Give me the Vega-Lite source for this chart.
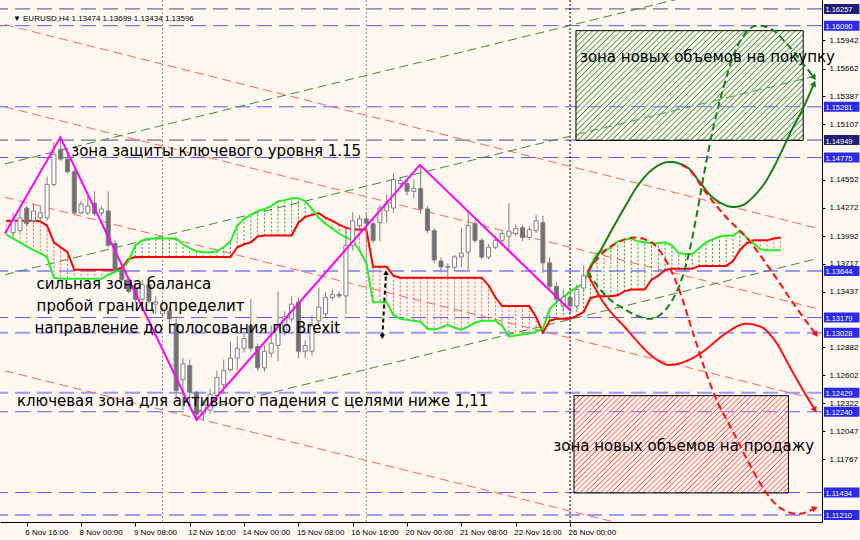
{
"$schema":"https://vega.github.io/schema/vega-lite/v6.json",
"width":822,"height":522,
"autosize":{"type":"none"},
"padding":{"left":0,"top":0,"right":38,"bottom":18},
"background":"#fdf7f0",
"config":{"view":{"stroke":null},"axis":{"labelOverlap":false,"labelSeparation":0}},
"datasets":{
"c":[{"b":-2,"o":1.14026,"h":1.14223,"l":1.13987,"c":1.14144},{"b":-1,"o":1.14046,"h":1.14262,"l":1.14027,"c":1.14173},{"b":0,"o":1.14271,"h":1.14291,"l":1.14095,"c":1.14115},{"b":1,"o":1.14144,"h":1.1432,"l":1.14115,"c":1.14242},{"b":2,"o":1.14174,"h":1.14291,"l":1.14125,"c":1.14223},{"b":3,"o":1.14174,"h":1.14584,"l":1.14144,"c":1.14506},{"b":4,"o":1.14506,"h":1.14927,"l":1.14487,"c":1.14809},{"b":5,"o":1.14858,"h":1.14976,"l":1.14741,"c":1.1476},{"b":6,"o":1.1476,"h":1.14829,"l":1.14614,"c":1.14633},{"b":7,"o":1.14633,"h":1.14663,"l":1.14213,"c":1.14222},{"b":8,"o":1.14222,"h":1.1434,"l":1.14213,"c":1.14311},{"b":9,"o":1.14222,"h":1.14389,"l":1.14203,"c":1.14291},{"b":10,"o":1.1432,"h":1.14438,"l":1.14193,"c":1.14213},{"b":11,"o":1.14222,"h":1.14291,"l":1.14193,"c":1.14262},{"b":12,"o":1.14242,"h":1.14438,"l":1.1388,"c":1.139},{"b":13,"o":1.1392,"h":1.13949,"l":1.13636,"c":1.13655},{"b":14,"o":1.13655,"h":1.1368,"l":1.1353,"c":1.13557},{"b":15,"o":1.13557,"h":1.1358,"l":1.1342,"c":1.1344},{"b":16,"o":1.1348,"h":1.1351,"l":1.1333,"c":1.13362},{"b":17,"o":1.13362,"h":1.13557,"l":1.13313,"c":1.13508},{"b":18,"o":1.13508,"h":1.1353,"l":1.1332,"c":1.13342},{"b":19,"o":1.13313,"h":1.1339,"l":1.13215,"c":1.13335},{"b":20,"o":1.13215,"h":1.1328,"l":1.1319,"c":1.13245},{"b":21,"o":1.13245,"h":1.1329,"l":1.131,"c":1.13166},{"b":22,"o":1.13117,"h":1.13166,"l":1.12384,"c":1.12452},{"b":23,"o":1.1256,"h":1.12775,"l":1.12256,"c":1.12717},{"b":24,"o":1.127,"h":1.1276,"l":1.123,"c":1.12433},{"b":25,"o":1.12433,"h":1.1245,"l":1.12159,"c":1.12217},{"b":26,"o":1.12217,"h":1.12355,"l":1.1215,"c":1.12315},{"b":27,"o":1.12257,"h":1.1247,"l":1.1222,"c":1.12413},{"b":28,"o":1.124,"h":1.1265,"l":1.1235,"c":1.1258},{"b":29,"o":1.1251,"h":1.1276,"l":1.1242,"c":1.1265},{"b":30,"o":1.12657,"h":1.1294,"l":1.1264,"c":1.12775},{"b":31,"o":1.12775,"h":1.1299,"l":1.1265,"c":1.12873},{"b":32,"o":1.12873,"h":1.1302,"l":1.1283,"c":1.1297},{"b":33,"o":1.13098,"h":1.13362,"l":1.1284,"c":1.12873},{"b":34,"o":1.1289,"h":1.1292,"l":1.1265,"c":1.12677},{"b":35,"o":1.12677,"h":1.129,"l":1.1264,"c":1.12843},{"b":36,"o":1.12824,"h":1.131,"l":1.1278,"c":1.12922},{"b":37,"o":1.12902,"h":1.1344,"l":1.12745,"c":1.13098},{"b":38,"o":1.1304,"h":1.1324,"l":1.13,"c":1.13186},{"b":39,"o":1.13166,"h":1.1339,"l":1.1313,"c":1.13313},{"b":40,"o":1.13333,"h":1.1338,"l":1.12775,"c":1.12843},{"b":41,"o":1.12843,"h":1.1295,"l":1.12775,"c":1.129},{"b":42,"o":1.12843,"h":1.132,"l":1.128,"c":1.13098},{"b":43,"o":1.13146,"h":1.13479,"l":1.131,"c":1.13284},{"b":44,"o":1.13215,"h":1.1343,"l":1.1318,"c":1.13381},{"b":45,"o":1.13381,"h":1.1346,"l":1.1335,"c":1.1341},{"b":46,"o":1.1341,"h":1.1344,"l":1.1337,"c":1.13395},{"b":47,"o":1.13395,"h":1.14075,"l":1.13215,"c":1.139},{"b":48,"o":1.139,"h":1.1423,"l":1.1385,"c":1.14144},{"b":49,"o":1.14095,"h":1.142,"l":1.1405,"c":1.14163},{"b":50,"o":1.14163,"h":1.1422,"l":1.14,"c":1.1412},{"b":51,"o":1.14115,"h":1.1415,"l":1.1392,"c":1.13949},{"b":52,"o":1.14125,"h":1.143,"l":1.1394,"c":1.14271},{"b":53,"o":1.14242,"h":1.14408,"l":1.14125,"c":1.14311},{"b":54,"o":1.14271,"h":1.14614,"l":1.14223,"c":1.14555},{"b":55,"o":1.14516,"h":1.1458,"l":1.1448,"c":1.14545},{"b":56,"o":1.14516,"h":1.1456,"l":1.144,"c":1.14438},{"b":57,"o":1.14438,"h":1.14555,"l":1.1437,"c":1.14467},{"b":58,"o":1.14467,"h":1.14682,"l":1.14213,"c":1.14262},{"b":59,"o":1.14262,"h":1.1429,"l":1.1402,"c":1.14046},{"b":60,"o":1.14046,"h":1.1407,"l":1.1372,"c":1.13753},{"b":61,"o":1.13743,"h":1.1378,"l":1.1363,"c":1.13684},{"b":62,"o":1.1368,"h":1.1372,"l":1.13557,"c":1.1369},{"b":63,"o":1.1368,"h":1.138,"l":1.1364,"c":1.13784},{"b":64,"o":1.13784,"h":1.14075,"l":1.1368,"c":1.13822},{"b":65,"o":1.13831,"h":1.14242,"l":1.13655,"c":1.14095},{"b":66,"o":1.14115,"h":1.1415,"l":1.1392,"c":1.13949},{"b":67,"o":1.13949,"h":1.1397,"l":1.1376,"c":1.13782},{"b":68,"o":1.13782,"h":1.1391,"l":1.1376,"c":1.1388},{"b":69,"o":1.1388,"h":1.1399,"l":1.1386,"c":1.13949},{"b":70,"o":1.13949,"h":1.1405,"l":1.1392,"c":1.14017},{"b":71,"o":1.1399,"h":1.1432,"l":1.13851,"c":1.1404},{"b":72,"o":1.14017,"h":1.1411,"l":1.1399,"c":1.14066},{"b":73,"o":1.14075,"h":1.141,"l":1.1394,"c":1.13978},{"b":74,"o":1.13978,"h":1.1409,"l":1.1395,"c":1.14056},{"b":75,"o":1.14046,"h":1.142,"l":1.1402,"c":1.14144},{"b":76,"o":1.14125,"h":1.14193,"l":1.13625,"c":1.13724},{"b":77,"o":1.13724,"h":1.1378,"l":1.13459,"c":1.13489},{"b":78,"o":1.13489,"h":1.1353,"l":1.13313,"c":1.13362},{"b":79,"o":1.13294,"h":1.13459,"l":1.1324,"c":1.13381},{"b":80,"o":1.13381,"h":1.1342,"l":1.1325,"c":1.13294},{"b":81,"o":1.13294,"h":1.1351,"l":1.1326,"c":1.13459},{"b":82,"o":1.13474,"h":1.13699,"l":1.13434,"c":1.13596}],
"k":[{"b":-3,"r":1.14144,"g":1.14007},{"b":-2,"r":1.14144,"g":1.13968},{"b":-1,"r":1.14144,"g":1.13929},{"b":0,"r":1.14144,"g":1.1389},{"b":1,"r":1.14144,"g":1.13851},{"b":2,"r":1.14139,"g":1.13821},{"b":3,"r":1.14095,"g":1.13782},{"b":4,"r":1.13929,"g":1.13577},{"b":5,"r":1.1388,"g":1.13567},{"b":6,"r":1.13831,"g":1.13567},{"b":7,"r":1.13655,"g":1.13567},{"b":8,"r":1.13655,"g":1.13567},{"b":9,"r":1.13655,"g":1.13567},{"b":10,"r":1.13655,"g":1.13567},{"b":11,"r":1.13655,"g":1.13567},{"b":12,"r":1.13655,"g":1.13606},{"b":13,"r":1.13655,"g":1.13636},{"b":14,"r":1.13675,"g":1.13655},{"b":15,"r":1.13763,"g":1.13743},{"b":16,"r":1.13782,"g":1.139},{"b":17,"r":1.13782,"g":1.13949},{"b":18,"r":1.13782,"g":1.13968},{"b":19,"r":1.13782,"g":1.13968},{"b":20,"r":1.13782,"g":1.13968},{"b":21,"r":1.13782,"g":1.13968},{"b":22,"r":1.13782,"g":1.13968},{"b":23,"r":1.13782,"g":1.1391},{"b":24,"r":1.13782,"g":1.13871},{"b":25,"r":1.13782,"g":1.13841},{"b":26,"r":1.13782,"g":1.13831},{"b":27,"r":1.13782,"g":1.13831},{"b":28,"r":1.13782,"g":1.13841},{"b":29,"r":1.13782,"g":1.1388},{"b":30,"r":1.13782,"g":1.13939},{"b":31,"r":1.1388,"g":1.14095},{"b":32,"r":1.1391,"g":1.14164},{"b":33,"r":1.13929,"g":1.14203},{"b":34,"r":1.13988,"g":1.14242},{"b":35,"r":1.13997,"g":1.14262},{"b":36,"r":1.13997,"g":1.14291},{"b":37,"r":1.13997,"g":1.1434},{"b":38,"r":1.13997,"g":1.1435},{"b":39,"r":1.13997,"g":1.14369},{"b":40,"r":1.14125,"g":1.14369},{"b":41,"r":1.14183,"g":1.1434},{"b":42,"r":1.14203,"g":1.14262},{"b":43,"r":1.14222,"g":1.14174},{"b":44,"r":1.14174,"g":1.14115},{"b":45,"r":1.14144,"g":1.14066},{"b":46,"r":1.14105,"g":1.14017},{"b":47,"r":1.14076,"g":1.13978},{"b":48,"r":1.14056,"g":1.13949},{"b":49,"r":1.14056,"g":1.13851},{"b":50,"r":1.14056,"g":1.13724},{"b":51,"r":1.13685,"g":1.13332},{"b":52,"r":1.13685,"g":1.13332},{"b":53,"r":1.13685,"g":1.13332},{"b":54,"r":1.13596,"g":1.13205},{"b":55,"r":1.13577,"g":1.13166},{"b":56,"r":1.13577,"g":1.13156},{"b":57,"r":1.13577,"g":1.13147},{"b":58,"r":1.13577,"g":1.13137},{"b":59,"r":1.13577,"g":1.13068},{"b":60,"r":1.13577,"g":1.13059},{"b":61,"r":1.13577,"g":1.13078},{"b":62,"r":1.13577,"g":1.13107},{"b":63,"r":1.13577,"g":1.13078},{"b":64,"r":1.13577,"g":1.13059},{"b":65,"r":1.13577,"g":1.13088},{"b":66,"r":1.13577,"g":1.13127},{"b":67,"r":1.13577,"g":1.13147},{"b":68,"r":1.13499,"g":1.13147},{"b":69,"r":1.13381,"g":1.13147},{"b":70,"r":1.13293,"g":1.13098},{"b":71,"r":1.13293,"g":1.1299},{"b":72,"r":1.13293,"g":1.13},{"b":73,"r":1.13293,"g":1.1301},{"b":74,"r":1.13293,"g":1.13019},{"b":75,"r":1.13186,"g":1.13039},{"b":76,"r":1.13029,"g":1.13068},{"b":77,"r":1.13147,"g":1.13264},{"b":78,"r":1.13166,"g":1.13332},{"b":79,"r":1.13166,"g":1.13381},{"b":80,"r":1.13166,"g":1.1344},{"b":81,"r":1.13196,"g":1.13479},{"b":82,"r":1.13235,"g":1.13518},{"b":83,"r":1.13372,"g":1.13694},{"b":84,"r":1.13391,"g":1.13821},{"b":85,"r":1.13391,"g":1.13851},{"b":86,"r":1.13391,"g":1.13871},{"b":87,"r":1.13401,"g":1.13939},{"b":88,"r":1.1344,"g":1.13958},{"b":89,"r":1.13459,"g":1.13968},{"b":90,"r":1.13459,"g":1.13939},{"b":91,"r":1.13459,"g":1.13929},{"b":92,"r":1.13557,"g":1.13919},{"b":93,"r":1.13596,"g":1.13919},{"b":94,"r":1.13655,"g":1.13929},{"b":95,"r":1.13665,"g":1.139},{"b":96,"r":1.13665,"g":1.13821},{"b":97,"r":1.13665,"g":1.13812},{"b":98,"r":1.13665,"g":1.13812},{"b":99,"r":1.13694,"g":1.13871},{"b":100,"r":1.13694,"g":1.13929},{"b":101,"r":1.13694,"g":1.13958},{"b":102,"r":1.13694,"g":1.13988},{"b":103,"r":1.13694,"g":1.13997},{"b":104,"r":1.13743,"g":1.13997},{"b":105,"r":1.13851,"g":1.14046},{"b":106,"r":1.13919,"g":1.13978},{"b":107,"r":1.13949,"g":1.13919},{"b":108,"r":1.13949,"g":1.13861},{"b":109,"r":1.13949,"g":1.13851},{"b":110,"r":1.13968,"g":1.13851},{"b":111,"r":1.13978,"g":1.13851}],
"z":[{"b":-3.2,"p":1.14017},{"b":4.95,"p":1.14976},{"b":25.0,"p":1.12159},{"b":57.9,"p":1.14702},{"b":80.15,"p":1.13244}],
"ch":[{"id":"RA","s":"r","b":-3.2,"p":1.161},{"id":"RA","s":"r","b":116.36,"p":1.1407},{"id":"RB","s":"r","b":-3.2,"p":1.15279},{"id":"RB","s":"r","b":116.36,"p":1.13269},{"id":"RC","s":"r","b":-3.2,"p":1.14379},{"id":"RC","s":"r","b":116.36,"p":1.12361},{"id":"RD","s":"r","b":-3.2,"p":1.12648},{"id":"RD","s":"r","b":116.36,"p":1.10638},{"id":"GA","s":"g","b":-3.2,"p":1.14711},{"id":"GA","s":"g","b":116.36,"p":1.16695},{"id":"GB","s":"g","b":-3.2,"p":1.13606},{"id":"GB","s":"g","b":116.36,"p":1.15592},{"id":"GC","s":"g","b":24.44,"p":1.12237},{"id":"GC","s":"g","b":116.36,"p":1.13766}],
"lv":[{"p":1.16257,"k":"n"},{"p":1.1609,"k":"b"},{"p":1.15281,"k":"b"},{"p":1.14949,"k":"n"},{"p":1.14775,"k":"b"},{"p":1.13644,"k":"l"},{"p":1.13179,"k":"b"},{"p":1.13028,"k":"l"},{"p":1.12429,"k":"l"},{"p":1.1224,"k":"b"},{"p":1.11434,"k":"b"},{"p":1.1121,"k":"l"}],
"sep":[{"b":20,"k":"g"},{"b":50,"k":"g"},{"b":80,"k":"k"}],
"fc":[{"id":"G1","b":82.62,"p":1.13636},{"id":"G1","b":84.51,"p":1.13851},{"id":"G1","b":86.25,"p":1.14066},{"id":"G1","b":88.15,"p":1.14291},{"id":"G1","b":89.89,"p":1.14487},{"id":"G1","b":92.07,"p":1.14653},{"id":"G1","b":94.69,"p":1.14731},{"id":"G1","b":97.16,"p":1.14682},{"id":"G1","b":99.05,"p":1.14535},{"id":"G1","b":100.8,"p":1.14389},{"id":"G1","b":102.55,"p":1.1431},{"id":"G1","b":104.0,"p":1.14281},{"id":"G1","b":105.45,"p":1.14301},{"id":"G1","b":106.91,"p":1.14379},{"id":"G1","b":108.8,"p":1.14535},{"id":"G1","b":110.55,"p":1.14751},{"id":"G1","b":112.44,"p":1.15024},{"id":"G1","b":114.33,"p":1.15269},{"id":"G1","b":115.93,"p":1.15514},
{"id":"G2","b":82.62,"p":1.13636},{"id":"G2","b":84.07,"p":1.13489},{"id":"G2","b":85.82,"p":1.13362},{"id":"G2","b":88.0,"p":1.13264},{"id":"G2","b":89.89,"p":1.13196},{"id":"G2","b":91.64,"p":1.13166},{"id":"G2","b":93.24,"p":1.13205},{"id":"G2","b":94.69,"p":1.13313},{"id":"G2","b":96.15,"p":1.13508},{"id":"G2","b":97.45,"p":1.13802},{"id":"G2","b":98.62,"p":1.14193},{"id":"G2","b":99.78,"p":1.14633},{"id":"G2","b":101.09,"p":1.15073},{"id":"G2","b":102.55,"p":1.15465},{"id":"G2","b":104.15,"p":1.15806},{"id":"G2","b":105.89,"p":1.16022},{"id":"G2","b":107.64,"p":1.16091},{"id":"G2","b":109.53,"p":1.16061},{"id":"G2","b":111.71,"p":1.15924},{"id":"G2","b":113.89,"p":1.15748},{"id":"G2","b":115.93,"p":1.15572},
{"id":"R1","b":82.62,"p":1.13606},{"id":"R1","b":83.64,"p":1.13479},{"id":"R1","b":84.8,"p":1.13342},{"id":"R1","b":86.25,"p":1.13215},{"id":"R1","b":88.0,"p":1.13088},{"id":"R1","b":89.89,"p":1.12941},{"id":"R1","b":92.07,"p":1.12794},{"id":"R1","b":94.69,"p":1.12706},{"id":"R1","b":97.16,"p":1.12746},{"id":"R1","b":99.64,"p":1.12843},{"id":"R1","b":102.69,"p":1.1301},{"id":"R1","b":105.89,"p":1.13117},{"id":"R1","b":108.07,"p":1.13088},{"id":"R1","b":110.25,"p":1.12941},{"id":"R1","b":112.44,"p":1.12677},{"id":"R1","b":114.33,"p":1.12452},{"id":"R1","b":116.07,"p":1.12257},
{"id":"R2","b":82.62,"p":1.13636},{"id":"R2","b":84.07,"p":1.13773},{"id":"R2","b":85.82,"p":1.1388},{"id":"R2","b":87.71,"p":1.13949},{"id":"R2","b":89.45,"p":1.13978},{"id":"R2","b":91.05,"p":1.13958},{"id":"R2","b":92.51,"p":1.139},{"id":"R2","b":94.25,"p":1.13733},{"id":"R2","b":96.15,"p":1.1344},{"id":"R2","b":98.18,"p":1.1301},{"id":"R2","b":99.78,"p":1.12677},{"id":"R2","b":101.53,"p":1.12364},{"id":"R2","b":104.0,"p":1.12041},{"id":"R2","b":106.18,"p":1.11748},{"id":"R2","b":108.36,"p":1.11484},{"id":"R2","b":110.98,"p":1.11278},{"id":"R2","b":113.6,"p":1.1122},{"id":"R2","b":116.07,"p":1.11278},
{"id":"R3","b":96.44,"p":1.14702},{"id":"R3","b":97.89,"p":1.14633},{"id":"R3","b":99.35,"p":1.14487},{"id":"R3","b":102.55,"p":1.14213},{"id":"R3","b":106.33,"p":1.13949},{"id":"R3","b":109.82,"p":1.13626},{"id":"R3","b":113.16,"p":1.13293},{"id":"R3","b":116.22,"p":1.1301}],
"ar":[{"id":"G1","b":115.93,"p":1.15514,"dir":294},{"id":"G2","b":115.93,"p":1.15572,"dir":52},{"id":"R1","b":116.07,"p":1.12257,"dir":59},{"id":"R2","b":116.07,"p":1.11278,"dir":341},{"id":"R3","b":116.22,"p":1.1301,"dir":54}],
"da":[{"b":52.9,"p":1.13626},{"b":52.36,"p":1.1299}],
"tx":[{"t":"зона защиты ключевого уровня 1.15","b":6.55,"p":1.14838},{"t":"сильная зона баланса","b":1.45,"p":1.13518},{"t":"пробой границ определит","b":1.45,"p":1.13293},{"t":"направление до голосования по Brexit","b":1.16,"p":1.13078},{"t":"ключевая зона для активного падения с целями ниже 1,11","b":-1.45,"p":1.12345},{"t":"зона новых объемов на покупку","b":81.45,"p":1.15778},{"t":"зона новых объемов на продажу","b":77.53,"p":1.11895}],
"hd":[{"t":"▼ EURUSD,H4  1.13474 1.13699 1.13434 1.13596","b":-2.04,"p":1.16159}]
},
"layer":[
{"data":{"name":"lv"},"mark":{"type":"rule","strokeDash":[15,7]},
 "encoding":{"y":{"field":"p","type":"quantitative","scale":{"domain":[1.1119,1.16296],"nice":false,"zero":false},"title":null},
 "color":{"condition":[{"test":"datum.k=='n'","value":"#4a4a8c"},{"test":"datum.k=='l'","value":"#9b9bff"}],"value":"#5c5cf5"},
 "strokeWidth":{"condition":{"test":"datum.k=='l'","value":2},"value":1}}},
{"data":{"name":"sep"},"mark":{"type":"rule","strokeDash":[2,2]},
 "encoding":{"x":{"field":"b","type":"quantitative","scale":{"domain":[-3.2,116.36],"nice":false,"zero":false},"title":null},
 "color":{"condition":{"test":"datum.k=='k'","value":"#000000"},"value":"#8a8a8a"}}},
{"data":{"name":"ch"},"mark":{"type":"line","strokeDash":[9,5],"strokeWidth":1,"clip":true},
 "encoding":{"x":{"field":"b","type":"quantitative","scale":{"domain":[-3.2,116.36],"nice":false,"zero":false},"title":null},
 "y":{"field":"p","type":"quantitative","scale":{"domain":[1.1119,1.16296],"nice":false,"zero":false},"title":null},
 "detail":{"field":"id"},
 "color":{"condition":{"test":"datum.s=='r'","value":"#ff6464"},"value":"#3c8c3c"}}},
{"data":{"name":"k"},"mark":{"type":"rule","strokeDash":[2,2],"strokeWidth":1},
 "encoding":{"x":{"field":"b","type":"quantitative","scale":{"domain":[-3.2,116.36],"nice":false,"zero":false},"title":null},
 "y":{"field":"r","type":"quantitative","scale":{"domain":[1.1119,1.16296],"nice":false,"zero":false},"title":null},
 "y2":{"field":"g"},
 "color":{"condition":{"test":"datum.r>=datum.g","value":"#ff5c5c"},"value":"#3a963a"}}},
{"data":{"name":"k"},"mark":{"type":"line","color":"#ff0000","strokeWidth":2},
 "encoding":{"x":{"field":"b","type":"quantitative","scale":{"domain":[-3.2,116.36],"nice":false,"zero":false},"title":null},
 "y":{"field":"r","type":"quantitative","scale":{"domain":[1.1119,1.16296],"nice":false,"zero":false},"title":null}}},
{"data":{"name":"k"},"mark":{"type":"line","color":"#22f022","strokeWidth":2},
 "encoding":{"x":{"field":"b","type":"quantitative","scale":{"domain":[-3.2,116.36],"nice":false,"zero":false},"title":null},
 "y":{"field":"g","type":"quantitative","scale":{"domain":[1.1119,1.16296],"nice":false,"zero":false},"title":null}}},
{"data":{"name":"c"},"mark":{"type":"rule","color":"#808080"},
 "encoding":{"x":{"field":"b","type":"quantitative","scale":{"domain":[-3.2,116.36],"nice":false,"zero":false},"title":null,
   "axis":{"orient":"bottom","title":null,"values":[0,8,16,24,32,40,48,56,64,72,80],"labelExpr":"['6 Nov 16:00','8 Nov 00:00','9 Nov 08:00','12 Nov 16:00','14 Nov 00:00','15 Nov 08:00','16 Nov 16:00','20 Nov 00:00','21 Nov 08:00','22 Nov 16:00','26 Nov 00:00'][datum.value/8]","labelAlign":"left","labelBaseline":"top","labelPadding":2,"labelOffset":-2,"labelFont":"Liberation Sans","labelFontSize":8,"labelColor":"#000000","tickSize":4,"tickColor":"#000000","domainColor":"#000000","grid":false,"labelOverlap":false,"labelFlush":false,"labelBound":false}},
 "y":{"field":"l","type":"quantitative","scale":{"domain":[1.1119,1.16296],"nice":false,"zero":false},"title":null,
   "axis":{"orient":"right","title":null,"values":[1.15942,1.15662,1.15387,1.15107,1.14552,1.14272,1.13992,1.13717,1.13437,1.12882,1.12602,1.12322,1.12047,1.11767],"format":".5f","labelFont":"Liberation Sans","labelFontSize":8,"labelColor":"#000000","labelPadding":4,"tickSize":3,"tickColor":"#000000","domainColor":"#000000","grid":false,"labelOverlap":false,"labelFlush":false,"labelBound":false}},
 "y2":{"field":"h"}}},
{"data":{"name":"c"},"mark":{"type":"bar","width":4,"stroke":"#808080","strokeWidth":1},
 "encoding":{"x":{"field":"b","type":"quantitative","scale":{"domain":[-3.2,116.36],"nice":false,"zero":false},"title":null},
 "y":{"field":"o","type":"quantitative","scale":{"domain":[1.1119,1.16296],"nice":false,"zero":false},"title":null},
 "y2":{"field":"c"},
 "fill":{"condition":{"test":"datum.c>=datum.o","value":"#ffffff"},"value":"#707070"}}},
{"data":{"name":"z"},"mark":{"type":"line","color":"#ff00ff","strokeWidth":2},
 "encoding":{"x":{"field":"b","type":"quantitative","scale":{"domain":[-3.2,116.36],"nice":false,"zero":false},"title":null},
 "y":{"field":"p","type":"quantitative","scale":{"domain":[1.1119,1.16296],"nice":false,"zero":false},"title":null}}},
{"data":{"name":"da"},"mark":{"type":"line","color":"#000000","strokeWidth":2,"strokeDash":[4,3]},
 "encoding":{"x":{"field":"b","type":"quantitative","scale":{"domain":[-3.2,116.36],"nice":false,"zero":false},"title":null},
 "y":{"field":"p","type":"quantitative","scale":{"domain":[1.1119,1.16296],"nice":false,"zero":false},"title":null}}},
{"data":{"name":"da"},"mark":{"type":"point","filled":true,"color":"#000000","size":30,"opacity":1},
 "encoding":{"x":{"field":"b","type":"quantitative","scale":{"domain":[-3.2,116.36],"nice":false,"zero":false},"title":null},
 "y":{"field":"p","type":"quantitative","scale":{"domain":[1.1119,1.16296],"nice":false,"zero":false},"title":null},
 "shape":{"condition":{"test":"datum.p>1.133","value":"triangle-up"},"value":"triangle-down"}}},
{"data":{"values":[{"b1":80.87,"b2":114.33,"p1":1.1604,"p2":1.14946}]},
 "mark":{"type":"rect","stroke":"#000000","strokeWidth":1,"fill":{"gradient":"linear","x1":0,"y1":0,"x2":1.2019,"y2":0.5853,"stops":[
{"offset":0,"color":"#2c8c2c"},{"offset":0.005,"color":"#fff0"},{"offset":0.0117,"color":"#fff0"},
{"offset":0.0167,"color":"#2c8c2c"},{"offset":0.0217,"color":"#fff0"},{"offset":0.0283,"color":"#fff0"},
{"offset":0.0333,"color":"#2c8c2c"},{"offset":0.0383,"color":"#fff0"},{"offset":0.045,"color":"#fff0"},
{"offset":0.05,"color":"#2c8c2c"},{"offset":0.055,"color":"#fff0"},{"offset":0.0617,"color":"#fff0"},
{"offset":0.0667,"color":"#2c8c2c"},{"offset":0.0717,"color":"#fff0"},{"offset":0.0783,"color":"#fff0"},
{"offset":0.0833,"color":"#2c8c2c"},{"offset":0.0883,"color":"#fff0"},{"offset":0.095,"color":"#fff0"},
{"offset":0.1,"color":"#2c8c2c"},{"offset":0.105,"color":"#fff0"},{"offset":0.1117,"color":"#fff0"},
{"offset":0.1167,"color":"#2c8c2c"},{"offset":0.1217,"color":"#fff0"},{"offset":0.1283,"color":"#fff0"},
{"offset":0.1333,"color":"#2c8c2c"},{"offset":0.1383,"color":"#fff0"},{"offset":0.145,"color":"#fff0"},
{"offset":0.15,"color":"#2c8c2c"},{"offset":0.155,"color":"#fff0"},{"offset":0.1617,"color":"#fff0"},
{"offset":0.1667,"color":"#2c8c2c"},{"offset":0.1717,"color":"#fff0"},{"offset":0.1783,"color":"#fff0"},
{"offset":0.1833,"color":"#2c8c2c"},{"offset":0.1883,"color":"#fff0"},{"offset":0.195,"color":"#fff0"},
{"offset":0.2,"color":"#2c8c2c"},{"offset":0.205,"color":"#fff0"},{"offset":0.2117,"color":"#fff0"},
{"offset":0.2167,"color":"#2c8c2c"},{"offset":0.2217,"color":"#fff0"},{"offset":0.2283,"color":"#fff0"},
{"offset":0.2333,"color":"#2c8c2c"},{"offset":0.2383,"color":"#fff0"},{"offset":0.245,"color":"#fff0"},
{"offset":0.25,"color":"#2c8c2c"},{"offset":0.255,"color":"#fff0"},{"offset":0.2617,"color":"#fff0"},
{"offset":0.2667,"color":"#2c8c2c"},{"offset":0.2717,"color":"#fff0"},{"offset":0.2783,"color":"#fff0"},
{"offset":0.2833,"color":"#2c8c2c"},{"offset":0.2883,"color":"#fff0"},{"offset":0.295,"color":"#fff0"},
{"offset":0.3,"color":"#2c8c2c"},{"offset":0.305,"color":"#fff0"},{"offset":0.3117,"color":"#fff0"},
{"offset":0.3167,"color":"#2c8c2c"},{"offset":0.3217,"color":"#fff0"},{"offset":0.3283,"color":"#fff0"},
{"offset":0.3333,"color":"#2c8c2c"},{"offset":0.3383,"color":"#fff0"},{"offset":0.345,"color":"#fff0"},
{"offset":0.35,"color":"#2c8c2c"},{"offset":0.355,"color":"#fff0"},{"offset":0.3617,"color":"#fff0"},
{"offset":0.3667,"color":"#2c8c2c"},{"offset":0.3717,"color":"#fff0"},{"offset":0.3783,"color":"#fff0"},
{"offset":0.3833,"color":"#2c8c2c"},{"offset":0.3883,"color":"#fff0"},{"offset":0.395,"color":"#fff0"},
{"offset":0.4,"color":"#2c8c2c"},{"offset":0.405,"color":"#fff0"},{"offset":0.4117,"color":"#fff0"},
{"offset":0.4167,"color":"#2c8c2c"},{"offset":0.4217,"color":"#fff0"},{"offset":0.4283,"color":"#fff0"},
{"offset":0.4333,"color":"#2c8c2c"},{"offset":0.4383,"color":"#fff0"},{"offset":0.445,"color":"#fff0"},
{"offset":0.45,"color":"#2c8c2c"},{"offset":0.455,"color":"#fff0"},{"offset":0.4617,"color":"#fff0"},
{"offset":0.4667,"color":"#2c8c2c"},{"offset":0.4717,"color":"#fff0"},{"offset":0.4783,"color":"#fff0"},
{"offset":0.4833,"color":"#2c8c2c"},{"offset":0.4883,"color":"#fff0"},{"offset":0.495,"color":"#fff0"},
{"offset":0.5,"color":"#2c8c2c"},{"offset":0.505,"color":"#fff0"},{"offset":0.5117,"color":"#fff0"},
{"offset":0.5167,"color":"#2c8c2c"},{"offset":0.5217,"color":"#fff0"},{"offset":0.5283,"color":"#fff0"},
{"offset":0.5333,"color":"#2c8c2c"},{"offset":0.5383,"color":"#fff0"},{"offset":0.545,"color":"#fff0"},
{"offset":0.55,"color":"#2c8c2c"},{"offset":0.555,"color":"#fff0"},{"offset":0.5617,"color":"#fff0"},
{"offset":0.5667,"color":"#2c8c2c"},{"offset":0.5717,"color":"#fff0"},{"offset":0.5783,"color":"#fff0"},
{"offset":0.5833,"color":"#2c8c2c"},{"offset":0.5883,"color":"#fff0"},{"offset":0.595,"color":"#fff0"},
{"offset":0.6,"color":"#2c8c2c"},{"offset":0.605,"color":"#fff0"},{"offset":0.6117,"color":"#fff0"},
{"offset":0.6167,"color":"#2c8c2c"},{"offset":0.6217,"color":"#fff0"},{"offset":0.6283,"color":"#fff0"},
{"offset":0.6333,"color":"#2c8c2c"},{"offset":0.6383,"color":"#fff0"},{"offset":0.645,"color":"#fff0"},
{"offset":0.65,"color":"#2c8c2c"},{"offset":0.655,"color":"#fff0"},{"offset":0.6617,"color":"#fff0"},
{"offset":0.6667,"color":"#2c8c2c"},{"offset":0.6717,"color":"#fff0"},{"offset":0.6783,"color":"#fff0"},
{"offset":0.6833,"color":"#2c8c2c"},{"offset":0.6883,"color":"#fff0"},{"offset":0.695,"color":"#fff0"},
{"offset":0.7,"color":"#2c8c2c"},{"offset":0.705,"color":"#fff0"},{"offset":0.7117,"color":"#fff0"},
{"offset":0.7167,"color":"#2c8c2c"},{"offset":0.7217,"color":"#fff0"},{"offset":0.7283,"color":"#fff0"},
{"offset":0.7333,"color":"#2c8c2c"},{"offset":0.7383,"color":"#fff0"},{"offset":0.745,"color":"#fff0"},
{"offset":0.75,"color":"#2c8c2c"},{"offset":0.755,"color":"#fff0"},{"offset":0.7617,"color":"#fff0"},
{"offset":0.7667,"color":"#2c8c2c"},{"offset":0.7717,"color":"#fff0"},{"offset":0.7783,"color":"#fff0"},
{"offset":0.7833,"color":"#2c8c2c"},{"offset":0.7883,"color":"#fff0"},{"offset":0.795,"color":"#fff0"},
{"offset":0.8,"color":"#2c8c2c"},{"offset":0.805,"color":"#fff0"},{"offset":0.8117,"color":"#fff0"},
{"offset":0.8167,"color":"#2c8c2c"},{"offset":0.8217,"color":"#fff0"},{"offset":0.8283,"color":"#fff0"},
{"offset":0.8333,"color":"#2c8c2c"},{"offset":0.8383,"color":"#fff0"},{"offset":0.845,"color":"#fff0"},
{"offset":0.85,"color":"#2c8c2c"},{"offset":0.855,"color":"#fff0"},{"offset":0.8617,"color":"#fff0"},
{"offset":0.8667,"color":"#2c8c2c"},{"offset":0.8717,"color":"#fff0"},{"offset":0.8783,"color":"#fff0"},
{"offset":0.8833,"color":"#2c8c2c"},{"offset":0.8883,"color":"#fff0"},{"offset":0.895,"color":"#fff0"},
{"offset":0.9,"color":"#2c8c2c"},{"offset":0.905,"color":"#fff0"},{"offset":0.9117,"color":"#fff0"},
{"offset":0.9167,"color":"#2c8c2c"},{"offset":0.9217,"color":"#fff0"},{"offset":0.9283,"color":"#fff0"},
{"offset":0.9333,"color":"#2c8c2c"},{"offset":0.9383,"color":"#fff0"},{"offset":0.945,"color":"#fff0"},
{"offset":0.95,"color":"#2c8c2c"},{"offset":0.955,"color":"#fff0"},{"offset":0.9617,"color":"#fff0"},
{"offset":0.9667,"color":"#2c8c2c"},{"offset":0.9717,"color":"#fff0"},{"offset":0.9783,"color":"#fff0"},
{"offset":0.9833,"color":"#2c8c2c"},{"offset":0.9883,"color":"#fff0"},{"offset":0.995,"color":"#fff0"},
{"offset":1,"color":"#2c8c2c"}]}},
 "encoding":{"x":{"field":"b1","type":"quantitative","scale":{"domain":[-3.2,116.36],"nice":false,"zero":false},"title":null},"x2":{"field":"b2"},
 "y":{"field":"p1","type":"quantitative","scale":{"domain":[1.1119,1.16296],"nice":false,"zero":false},"title":null},"y2":{"field":"p2"}}},
{"data":{"values":[{"b1":80.58,"b2":112.15,"p1":1.124,"p2":1.1143}]},
 "mark":{"type":"rect","stroke":"#000000","strokeWidth":1,"fill":{"gradient":"linear","x1":0,"y1":0,"x2":1.2049,"y2":0.5552,"stops":[
{"offset":0,"color":"#ff3c3c"},{"offset":0.005,"color":"#fff0"},{"offset":0.0117,"color":"#fff0"},
{"offset":0.0167,"color":"#ff3c3c"},{"offset":0.0217,"color":"#fff0"},{"offset":0.0283,"color":"#fff0"},
{"offset":0.0333,"color":"#ff3c3c"},{"offset":0.0383,"color":"#fff0"},{"offset":0.045,"color":"#fff0"},
{"offset":0.05,"color":"#ff3c3c"},{"offset":0.055,"color":"#fff0"},{"offset":0.0617,"color":"#fff0"},
{"offset":0.0667,"color":"#ff3c3c"},{"offset":0.0717,"color":"#fff0"},{"offset":0.0783,"color":"#fff0"},
{"offset":0.0833,"color":"#ff3c3c"},{"offset":0.0883,"color":"#fff0"},{"offset":0.095,"color":"#fff0"},
{"offset":0.1,"color":"#ff3c3c"},{"offset":0.105,"color":"#fff0"},{"offset":0.1117,"color":"#fff0"},
{"offset":0.1167,"color":"#ff3c3c"},{"offset":0.1217,"color":"#fff0"},{"offset":0.1283,"color":"#fff0"},
{"offset":0.1333,"color":"#ff3c3c"},{"offset":0.1383,"color":"#fff0"},{"offset":0.145,"color":"#fff0"},
{"offset":0.15,"color":"#ff3c3c"},{"offset":0.155,"color":"#fff0"},{"offset":0.1617,"color":"#fff0"},
{"offset":0.1667,"color":"#ff3c3c"},{"offset":0.1717,"color":"#fff0"},{"offset":0.1783,"color":"#fff0"},
{"offset":0.1833,"color":"#ff3c3c"},{"offset":0.1883,"color":"#fff0"},{"offset":0.195,"color":"#fff0"},
{"offset":0.2,"color":"#ff3c3c"},{"offset":0.205,"color":"#fff0"},{"offset":0.2117,"color":"#fff0"},
{"offset":0.2167,"color":"#ff3c3c"},{"offset":0.2217,"color":"#fff0"},{"offset":0.2283,"color":"#fff0"},
{"offset":0.2333,"color":"#ff3c3c"},{"offset":0.2383,"color":"#fff0"},{"offset":0.245,"color":"#fff0"},
{"offset":0.25,"color":"#ff3c3c"},{"offset":0.255,"color":"#fff0"},{"offset":0.2617,"color":"#fff0"},
{"offset":0.2667,"color":"#ff3c3c"},{"offset":0.2717,"color":"#fff0"},{"offset":0.2783,"color":"#fff0"},
{"offset":0.2833,"color":"#ff3c3c"},{"offset":0.2883,"color":"#fff0"},{"offset":0.295,"color":"#fff0"},
{"offset":0.3,"color":"#ff3c3c"},{"offset":0.305,"color":"#fff0"},{"offset":0.3117,"color":"#fff0"},
{"offset":0.3167,"color":"#ff3c3c"},{"offset":0.3217,"color":"#fff0"},{"offset":0.3283,"color":"#fff0"},
{"offset":0.3333,"color":"#ff3c3c"},{"offset":0.3383,"color":"#fff0"},{"offset":0.345,"color":"#fff0"},
{"offset":0.35,"color":"#ff3c3c"},{"offset":0.355,"color":"#fff0"},{"offset":0.3617,"color":"#fff0"},
{"offset":0.3667,"color":"#ff3c3c"},{"offset":0.3717,"color":"#fff0"},{"offset":0.3783,"color":"#fff0"},
{"offset":0.3833,"color":"#ff3c3c"},{"offset":0.3883,"color":"#fff0"},{"offset":0.395,"color":"#fff0"},
{"offset":0.4,"color":"#ff3c3c"},{"offset":0.405,"color":"#fff0"},{"offset":0.4117,"color":"#fff0"},
{"offset":0.4167,"color":"#ff3c3c"},{"offset":0.4217,"color":"#fff0"},{"offset":0.4283,"color":"#fff0"},
{"offset":0.4333,"color":"#ff3c3c"},{"offset":0.4383,"color":"#fff0"},{"offset":0.445,"color":"#fff0"},
{"offset":0.45,"color":"#ff3c3c"},{"offset":0.455,"color":"#fff0"},{"offset":0.4617,"color":"#fff0"},
{"offset":0.4667,"color":"#ff3c3c"},{"offset":0.4717,"color":"#fff0"},{"offset":0.4783,"color":"#fff0"},
{"offset":0.4833,"color":"#ff3c3c"},{"offset":0.4883,"color":"#fff0"},{"offset":0.495,"color":"#fff0"},
{"offset":0.5,"color":"#ff3c3c"},{"offset":0.505,"color":"#fff0"},{"offset":0.5117,"color":"#fff0"},
{"offset":0.5167,"color":"#ff3c3c"},{"offset":0.5217,"color":"#fff0"},{"offset":0.5283,"color":"#fff0"},
{"offset":0.5333,"color":"#ff3c3c"},{"offset":0.5383,"color":"#fff0"},{"offset":0.545,"color":"#fff0"},
{"offset":0.55,"color":"#ff3c3c"},{"offset":0.555,"color":"#fff0"},{"offset":0.5617,"color":"#fff0"},
{"offset":0.5667,"color":"#ff3c3c"},{"offset":0.5717,"color":"#fff0"},{"offset":0.5783,"color":"#fff0"},
{"offset":0.5833,"color":"#ff3c3c"},{"offset":0.5883,"color":"#fff0"},{"offset":0.595,"color":"#fff0"},
{"offset":0.6,"color":"#ff3c3c"},{"offset":0.605,"color":"#fff0"},{"offset":0.6117,"color":"#fff0"},
{"offset":0.6167,"color":"#ff3c3c"},{"offset":0.6217,"color":"#fff0"},{"offset":0.6283,"color":"#fff0"},
{"offset":0.6333,"color":"#ff3c3c"},{"offset":0.6383,"color":"#fff0"},{"offset":0.645,"color":"#fff0"},
{"offset":0.65,"color":"#ff3c3c"},{"offset":0.655,"color":"#fff0"},{"offset":0.6617,"color":"#fff0"},
{"offset":0.6667,"color":"#ff3c3c"},{"offset":0.6717,"color":"#fff0"},{"offset":0.6783,"color":"#fff0"},
{"offset":0.6833,"color":"#ff3c3c"},{"offset":0.6883,"color":"#fff0"},{"offset":0.695,"color":"#fff0"},
{"offset":0.7,"color":"#ff3c3c"},{"offset":0.705,"color":"#fff0"},{"offset":0.7117,"color":"#fff0"},
{"offset":0.7167,"color":"#ff3c3c"},{"offset":0.7217,"color":"#fff0"},{"offset":0.7283,"color":"#fff0"},
{"offset":0.7333,"color":"#ff3c3c"},{"offset":0.7383,"color":"#fff0"},{"offset":0.745,"color":"#fff0"},
{"offset":0.75,"color":"#ff3c3c"},{"offset":0.755,"color":"#fff0"},{"offset":0.7617,"color":"#fff0"},
{"offset":0.7667,"color":"#ff3c3c"},{"offset":0.7717,"color":"#fff0"},{"offset":0.7783,"color":"#fff0"},
{"offset":0.7833,"color":"#ff3c3c"},{"offset":0.7883,"color":"#fff0"},{"offset":0.795,"color":"#fff0"},
{"offset":0.8,"color":"#ff3c3c"},{"offset":0.805,"color":"#fff0"},{"offset":0.8117,"color":"#fff0"},
{"offset":0.8167,"color":"#ff3c3c"},{"offset":0.8217,"color":"#fff0"},{"offset":0.8283,"color":"#fff0"},
{"offset":0.8333,"color":"#ff3c3c"},{"offset":0.8383,"color":"#fff0"},{"offset":0.845,"color":"#fff0"},
{"offset":0.85,"color":"#ff3c3c"},{"offset":0.855,"color":"#fff0"},{"offset":0.8617,"color":"#fff0"},
{"offset":0.8667,"color":"#ff3c3c"},{"offset":0.8717,"color":"#fff0"},{"offset":0.8783,"color":"#fff0"},
{"offset":0.8833,"color":"#ff3c3c"},{"offset":0.8883,"color":"#fff0"},{"offset":0.895,"color":"#fff0"},
{"offset":0.9,"color":"#ff3c3c"},{"offset":0.905,"color":"#fff0"},{"offset":0.9117,"color":"#fff0"},
{"offset":0.9167,"color":"#ff3c3c"},{"offset":0.9217,"color":"#fff0"},{"offset":0.9283,"color":"#fff0"},
{"offset":0.9333,"color":"#ff3c3c"},{"offset":0.9383,"color":"#fff0"},{"offset":0.945,"color":"#fff0"},
{"offset":0.95,"color":"#ff3c3c"},{"offset":0.955,"color":"#fff0"},{"offset":0.9617,"color":"#fff0"},
{"offset":0.9667,"color":"#ff3c3c"},{"offset":0.9717,"color":"#fff0"},{"offset":0.9783,"color":"#fff0"},
{"offset":0.9833,"color":"#ff3c3c"},{"offset":0.9883,"color":"#fff0"},{"offset":0.995,"color":"#fff0"},
{"offset":1,"color":"#ff3c3c"}]}},
 "encoding":{"x":{"field":"b1","type":"quantitative","scale":{"domain":[-3.2,116.36],"nice":false,"zero":false},"title":null},"x2":{"field":"b2"},
 "y":{"field":"p1","type":"quantitative","scale":{"domain":[1.1119,1.16296],"nice":false,"zero":false},"title":null},"y2":{"field":"p2"}}},
{"data":{"name":"fc"},"mark":{"type":"line","strokeWidth":2,"interpolate":"monotone","clip":true},
 "encoding":{"x":{"field":"b","type":"quantitative","scale":{"domain":[-3.2,116.36],"nice":false,"zero":false},"title":null},
 "y":{"field":"p","type":"quantitative","scale":{"domain":[1.1119,1.16296],"nice":false,"zero":false},"title":null},
 "detail":{"field":"id"},
 "color":{"condition":{"test":"datum.id=='G1'||datum.id=='G2'","value":"#15801a"},"value":"#ff1010"},
 "strokeDash":{"condition":{"test":"datum.id=='G2'||datum.id=='R2'||datum.id=='R3'","value":[7,4]},"value":[1,0]}}},
{"data":{"name":"ar"},"mark":{"type":"point","shape":"triangle-right","filled":true,"size":45,"opacity":1},
 "encoding":{"x":{"field":"b","type":"quantitative","scale":{"domain":[-3.2,116.36],"nice":false,"zero":false},"title":null},
 "y":{"field":"p","type":"quantitative","scale":{"domain":[1.1119,1.16296],"nice":false,"zero":false},"title":null},
 "angle":{"field":"dir","type":"quantitative","scale":{"domain":[0,360],"range":[0,360]},"legend":null},
 "color":{"condition":{"test":"datum.id=='G1'||datum.id=='G2'","value":"#15801a"},"value":"#ff1010"}}},
{"data":{"name":"tx"},"mark":{"type":"text","align":"left","baseline":"middle","font":"DejaVu Sans","fontSize":15,"color":"#000000"},
 "encoding":{"x":{"field":"b","type":"quantitative","scale":{"domain":[-3.2,116.36],"nice":false,"zero":false},"title":null},
 "y":{"field":"p","type":"quantitative","scale":{"domain":[1.1119,1.16296],"nice":false,"zero":false},"title":null},
 "text":{"field":"t"}}},
{"data":{"name":"hd"},"mark":{"type":"text","align":"left","baseline":"middle","font":"Liberation Sans","fontSize":8,"color":"#000000"},
 "encoding":{"x":{"field":"b","type":"quantitative","scale":{"domain":[-3.2,116.36],"nice":false,"zero":false},"title":null},
 "y":{"field":"p","type":"quantitative","scale":{"domain":[1.1119,1.16296],"nice":false,"zero":false},"title":null},
 "text":{"field":"t"}}},
{"data":{"name":"lv"},"mark":{"type":"bar","height":10},
 "encoding":{"x":{"datum":117.38,"type":"quantitative","scale":{"domain":[-3.2,116.36],"nice":false,"zero":false},"title":null},
 "x2":{"datum":122.6},
 "y":{"field":"p","type":"quantitative","scale":{"domain":[1.1119,1.16296],"nice":false,"zero":false},"title":null},
 "color":{"condition":{"test":"datum.k=='n'","value":"#1e1e78"},"value":"#2a2af0"}}},
{"data":{"name":"lv"},"mark":{"type":"text","align":"left","baseline":"middle","dy":1.5,"font":"Liberation Sans","fontSize":7.5,"color":"#ffffff"},
 "encoding":{"x":{"datum":117.6,"type":"quantitative","scale":{"domain":[-3.2,116.36],"nice":false,"zero":false},"title":null},
 "y":{"field":"p","type":"quantitative","scale":{"domain":[1.1119,1.16296],"nice":false,"zero":false},"title":null},
 "text":{"field":"p","type":"quantitative","format":".5f"}}}
]
}
